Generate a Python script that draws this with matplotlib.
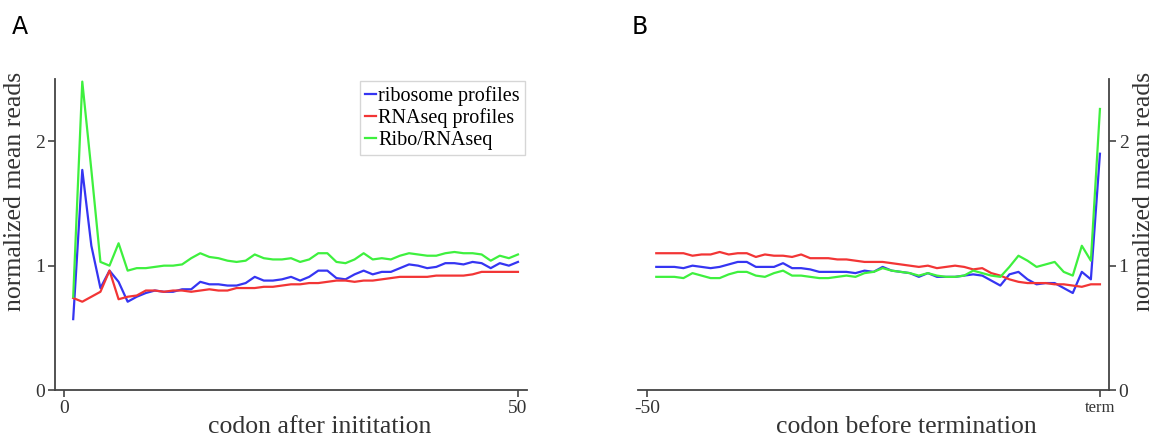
"""
Ribosome vs RNAseq metagene profiles around start and stop codons.
"""

import numpy as np
import matplotlib
matplotlib.use("Agg")
import matplotlib.pyplot as plt

# Panel A: codons 1..50 after initiation
codon_after = np.arange(1, 51)
ribo_start = [0.57, 1.77, 1.16, 0.82, 0.96, 0.87, 0.71, 0.75, 0.78, 0.80,
              0.79, 0.79, 0.81, 0.81, 0.87, 0.85, 0.85, 0.84, 0.84, 0.86,
              0.91, 0.88, 0.88, 0.89, 0.91, 0.88, 0.91, 0.96, 0.96, 0.90,
              0.89, 0.93, 0.96, 0.93, 0.95, 0.95, 0.98, 1.01, 1.00, 0.98,
              0.99, 1.02, 1.02, 1.01, 1.03, 1.02, 0.98, 1.02, 1.00, 1.03]
rna_start = [0.74, 0.71, 0.75, 0.79, 0.96, 0.73, 0.75, 0.76, 0.80, 0.80,
             0.79, 0.80, 0.80, 0.79, 0.80, 0.81, 0.80, 0.80, 0.82, 0.82,
             0.82, 0.83, 0.83, 0.84, 0.85, 0.85, 0.86, 0.86, 0.87, 0.88,
             0.88, 0.87, 0.88, 0.88, 0.89, 0.90, 0.91, 0.91, 0.91, 0.91,
             0.92, 0.92, 0.92, 0.92, 0.93, 0.95, 0.95, 0.95, 0.95, 0.95]
ratio_start = [0.75, 2.48, 1.77, 1.03, 1.00, 1.18, 0.96, 0.98, 0.98, 0.99,
               1.00, 1.00, 1.01, 1.06, 1.10, 1.07, 1.06, 1.04, 1.03, 1.04,
               1.09, 1.06, 1.05, 1.05, 1.06, 1.03, 1.05, 1.10, 1.10, 1.03,
               1.02, 1.05, 1.10, 1.05, 1.06, 1.05, 1.08, 1.10, 1.09, 1.08,
               1.08, 1.10, 1.11, 1.10, 1.10, 1.09, 1.04, 1.08, 1.06, 1.09]

# Panel B: codons -49..0 before termination
codon_before = np.arange(-49, 1)
ribo_stop = [0.99, 0.99, 0.99, 0.98, 1.00, 0.99, 0.98, 0.99, 1.01, 1.03,
             1.03, 0.99, 0.99, 0.99, 1.02, 0.98, 0.98, 0.97, 0.95, 0.95,
             0.95, 0.95, 0.94, 0.96, 0.95, 0.99, 0.96, 0.95, 0.94, 0.91,
             0.94, 0.91, 0.91, 0.91, 0.92, 0.93, 0.92, 0.88, 0.84, 0.93,
             0.95, 0.89, 0.85, 0.86, 0.86, 0.82, 0.78, 0.95, 0.89, 1.90]
rna_stop = [1.10, 1.10, 1.10, 1.10, 1.08, 1.09, 1.09, 1.11, 1.09, 1.10,
            1.10, 1.07, 1.09, 1.08, 1.08, 1.07, 1.09, 1.06, 1.06, 1.06,
            1.05, 1.05, 1.04, 1.03, 1.03, 1.03, 1.02, 1.01, 1.00, 0.99,
            1.00, 0.98, 0.99, 1.00, 0.99, 0.97, 0.98, 0.94, 0.92, 0.89,
            0.87, 0.86, 0.86, 0.86, 0.85, 0.85, 0.84, 0.83, 0.85, 0.85]
ratio_stop = [0.91, 0.91, 0.91, 0.90, 0.94, 0.92, 0.90, 0.90, 0.93, 0.95,
              0.95, 0.92, 0.91, 0.94, 0.96, 0.92, 0.92, 0.91, 0.90, 0.90,
              0.91, 0.92, 0.91, 0.94, 0.95, 0.98, 0.96, 0.95, 0.94, 0.92,
              0.94, 0.92, 0.91, 0.91, 0.92, 0.96, 0.94, 0.92, 0.91, 0.99,
              1.08, 1.04, 0.99, 1.01, 1.03, 0.95, 0.92, 1.16, 1.04, 2.26]

labels = ["ribosome profiles", "RNAseq profiles", "Ribo/RNAseq"]
colors = ["#3535f2", "#f23535", "#3ef03e"]

serif = "Liberation Serif"
spine_col = "#444444"
text_col = "#333333"

fig = plt.figure(figsize=(11.54, 4.41), dpi=100)
axA = fig.add_axes([0.0477, 0.1156, 0.409, 0.705])
axB = fig.add_axes([0.553, 0.1156, 0.408, 0.705])

# (A) start codon
for y, c, lab in zip([ribo_start, rna_start, ratio_start], colors, labels):
    axA.plot(codon_after, y, color=c, linewidth=1.6, label=lab)
axA.set_xlim(-1, 51)
axA.set_ylim(0, 2.5)
axA.set_xticks([0, 50])
axA.set_yticks([0, 1, 2])
axA.spines["top"].set_visible(False)
axA.spines["right"].set_visible(False)
axA.set_xlabel("codon after inititation", fontsize=18.5, family=serif, color=text_col)
axA.xaxis.set_label_coords(0.56, -0.085)
axA.set_ylabel("normalized mean reads", fontsize=18.5, family=serif, color=text_col)
axA.yaxis.set_label_coords(-0.062, 0.64)
leg = axA.legend(loc="upper right", bbox_to_anchor=(1.0, 1.0), borderaxespad=0.1,
                 handlelength=0.55, handletextpad=0.1, labelspacing=0.12,
                 prop={"family": serif, "size": 14.5}, fancybox=False,
                 edgecolor="#cccccc", borderpad=0.25)
leg.get_frame().set_linewidth(1.0)

# (B) stop codon
for y, c in zip([ribo_stop, rna_stop, ratio_stop], colors):
    axB.plot(codon_before, y, color=c, linewidth=1.6)
axB.set_xlim(-51, 1)
axB.set_ylim(0, 2.5)
axB.set_xticks([-50, 0])
axB.set_xticklabels(["-50", "term"])
axB.set_yticks([0, 1, 2])
axB.yaxis.tick_right()
axB.yaxis.set_label_position("right")
axB.spines["top"].set_visible(False)
axB.spines["left"].set_visible(False)
axB.set_xlabel("codon before termination", fontsize=18.5, family=serif, color=text_col)
axB.xaxis.set_label_coords(0.57, -0.085)
axB.set_ylabel("normalized mean reads", fontsize=18.5, family=serif, color=text_col)
axB.yaxis.set_label_coords(1.052, 0.64)

for ax in (axA, axB):
    for s in ax.spines.values():
        s.set_color(spine_col)
        s.set_linewidth(1.3)
    ax.tick_params(direction="out", length=5, width=1.2, color=spine_col,
                   labelsize=14, labelcolor=text_col, pad=2)
    for t in ax.get_xticklabels() + ax.get_yticklabels():
        t.set_family(serif)
axB.get_xticklabels()[1].set_fontsize(12)

fig.text(0.010, 0.965, "A", fontsize=17, family="DejaVu Sans", va="top")
fig.text(0.547, 0.965, "B", fontsize=17, family="DejaVu Sans", va="top")

fig.savefig("out.png", dpi=100)
